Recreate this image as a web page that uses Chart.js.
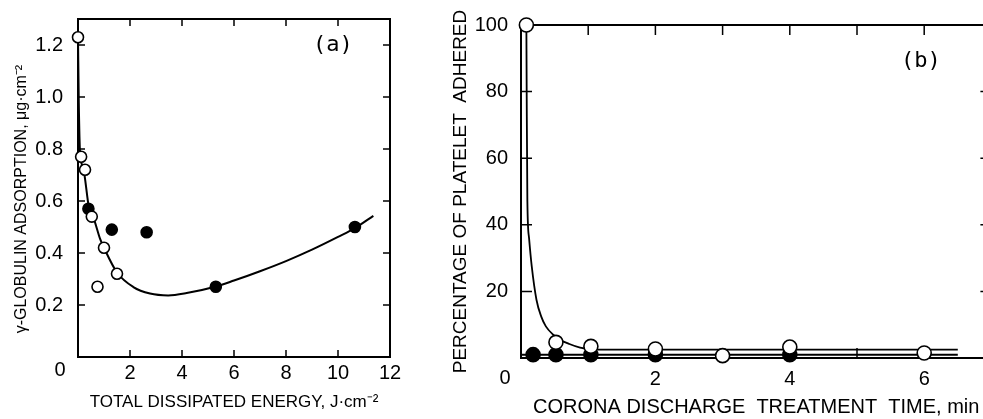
<!DOCTYPE html>
<html>
<head>
<meta charset="utf-8">
<script src="https://cdn.jsdelivr.net/npm/chart.js@4/dist/chart.umd.min.js"></script>
<style>
  html, body { margin: 0; padding: 0; background: #fff; overflow: hidden; }
  body { width: 983px; height: 419px; position: relative; }
  canvas { position: absolute; top: 0; }
  #graficoA { left: 0; }
  #graficoB { left: 440px; }
</style>
</head>
<body>
<canvas id="graficoA" width="420" height="419"></canvas>
<canvas id="graficoB" width="560" height="419"></canvas>
<script>
// Painel (a): adsorção de gama-globulina x energia dissipada
const energiaAberto = [0, 0.12, 0.27, 0.53, 0.75, 1.0, 1.5];
const adsorcaoAberto = [1.23, 0.77, 0.72, 0.54, 0.27, 0.42, 0.32];
const energiaCheio = [0.4, 1.3, 2.64, 5.3, 10.65];
const adsorcaoCheio = [0.57, 0.49, 0.48, 0.27, 0.50];
const energiaCurva = [0, 0.03, 0.08, 0.2, 0.43, 0.59, 0.85, 1.0, 1.5, 2.13, 2.77, 3.47, 4.18, 5.31, 6.0, 7.0, 8.0, 9.0, 10.0, 10.67, 11.36];
const adsorcaoCurva = [1.23, 0.98, 0.785, 0.728, 0.569, 0.537, 0.454, 0.42, 0.325, 0.269, 0.244, 0.237, 0.246, 0.271, 0.294, 0.33, 0.369, 0.413, 0.462, 0.497, 0.543];
const ticksEnergia = [0, 2, 4, 6, 8, 10, 12];
const ticksAdsorcao = [0.2, 0.4, 0.6, 0.8, 1.0, 1.2];

// Painel (b): plaquetas aderidas x tempo de tratamento
const tempoAberto = [0.08, 0.52, 1.04, 2.0, 3.0, 4.0, 6.0];
const plaquetasAberto = [100, 4.7, 3.5, 2.7, 0.7, 3.3, 1.5];
const tempoCheio = [0.18, 0.52, 1.04, 2.0, 4.0];
const plaquetasCheio = [1.0, 1.0, 1.0, 1.0, 1.0];
const tempoCurvaAberto = [0.08, 0.085, 0.095, 0.12, 0.16, 0.23, 0.3, 0.37, 0.48, 0.58, 0.72, 0.88, 1.05, 1.4, 6.5];
const plaquetasCurvaAberto = [100, 78, 47, 36, 27.5, 17.5, 12.5, 9.5, 7, 5.5, 4.2, 3.1, 2.6, 2.5, 2.5];
const tempoCurvaCheio = [0, 6.5];
const plaquetasCurvaCheio = [1.0, 1.0];
const ticksTempo = [0, 1, 2, 3, 4, 5, 6, 7];
const rotulosTempo = [2, 4, 6];
const ticksPlaquetas = [20, 40, 60, 80, 100];

const FONTE = "'Liberation Sans', Arial, sans-serif";
const pontos = (xs, ys) => xs.map((x, i) => ({ x, y: ys[i] }));

// Moldura com marcas de escala voltadas para dentro
const moldura = {
  id: 'moldura',
  beforeDatasetsDraw(chart, args, opts) {
    const { ctx, chartArea: a, scales: { x, y } } = chart;
    ctx.save();
    ctx.strokeStyle = '#000';
    ctx.lineWidth = 2;
    ctx.strokeRect(a.left, a.top, a.right - a.left, a.bottom - a.top);
    ctx.lineWidth = 1.5;
    ctx.beginPath();
    x.ticks.forEach(t => {
      if (t.value <= x.min || t.value >= x.max) return;
      const px = x.getPixelForValue(t.value);
      ctx.moveTo(px, a.bottom); ctx.lineTo(px, a.bottom - opts.tickX);
      ctx.moveTo(px, a.top); ctx.lineTo(px, a.top + opts.tickX);
    });
    y.ticks.forEach(t => {
      if (t.value <= y.min || t.value >= y.max) return;
      const py = y.getPixelForValue(t.value);
      ctx.moveTo(a.left, py); ctx.lineTo(a.left + opts.tickY, py);
      ctx.moveTo(a.right, py); ctx.lineTo(a.right - opts.tickY, py);
    });
    ctx.stroke();
    ctx.restore();
  },
  afterDraw(chart, args, opts) {
    const { ctx, chartArea: a, scales: { x, y } } = chart;
    ctx.save();
    ctx.fillStyle = '#000';
    ctx.textAlign = 'center';
    ctx.textBaseline = 'middle';
    ctx.font = opts.fonteZero;
    ctx.fillText('0', a.left + opts.zeroDx, a.bottom + opts.zeroDy);
    ctx.font = "22px 'DejaVu Sans Mono', monospace";
    ctx.fillText(opts.rotulo, x.getPixelForValue(opts.rotuloX), y.getPixelForValue(opts.rotuloY));
    ctx.restore();
  }
};

function criarGrafico(canvasId, cfg) {
  const ctx = document.getElementById(canvasId).getContext('2d');
  return new Chart(ctx, {
    type: 'scatter',
    data: {
      datasets: [
        {
          data: pontos(cfg.abertoX, cfg.abertoY),
          pointRadius: cfg.raio, pointBorderWidth: 1.6,
          pointBackgroundColor: '#fff', pointBorderColor: '#000',
          clip: false
        },
        {
          data: pontos(cfg.cheioX, cfg.cheioY),
          pointRadius: cfg.raio, pointBorderWidth: 1.6,
          pointBackgroundColor: '#000', pointBorderColor: '#000',
          clip: false
        },
        ...cfg.curvas.map(c => ({
          data: pontos(c[0], c[1]),
          showLine: true, pointRadius: 0,
          borderColor: '#000', borderWidth: c[2],
          cubicInterpolationMode: 'monotone',
          clip: false
        }))
      ]
    },
    options: {
      responsive: false,
      animation: false,
      layout: { padding: cfg.padding },
      plugins: {
        legend: { display: false },
        tooltip: { enabled: false },
        moldura: cfg.moldura
      },
      scales: {
        x: {
          type: 'linear', min: cfg.xMin, max: cfg.xMax,
          afterBuildTicks: s => { s.ticks = cfg.ticksX.map(v => ({ value: v })); },
          afterFit: s => { s.height = cfg.alturaX; },
          grid: { display: false },
          border: { display: false },
          ticks: {
            callback: cfg.rotuloX, color: '#000', maxRotation: 0, autoSkip: false,
            padding: cfg.padX, font: { family: FONTE, size: cfg.fonteTick }
          },
          title: {
            display: true, text: cfg.tituloX, color: '#000',
            font: { family: FONTE, size: cfg.fonteTituloX },
            padding: { top: 0, bottom: cfg.padTituloX }
          }
        },
        y: {
          type: 'linear', min: cfg.yMin, max: cfg.yMax,
          afterBuildTicks: s => { s.ticks = cfg.ticksY.map(v => ({ value: v })); },
          afterFit: s => { s.width = cfg.larguraY; },
          grid: { display: false },
          border: { display: false },
          ticks: {
            callback: cfg.rotuloY, color: '#000', autoSkip: false,
            padding: cfg.padY, font: { family: FONTE, size: cfg.fonteTick }
          },
          title: {
            display: true, text: cfg.tituloY, color: '#000',
            font: { family: FONTE, size: cfg.fonteTituloY },
            padding: { top: cfg.padTituloY, bottom: 0 }
          }
        }
      }
    },
    plugins: [moldura]
  });
}

criarGrafico('graficoA', {
  abertoX: energiaAberto, abertoY: adsorcaoAberto,
  cheioX: energiaCheio, cheioY: adsorcaoCheio,
  curvas: [[energiaCurva, adsorcaoCurva, 2]],
  raio: 5.5,
  xMin: 0, xMax: 12, yMin: 0, yMax: 1.3,
  ticksX: ticksEnergia, ticksY: ticksAdsorcao,
  rotuloX: v => (v === 0 ? '' : String(v)),
  rotuloY: v => v.toFixed(1),
  padding: { top: 14, right: 30, left: 0, bottom: 0 },
  alturaX: 62, larguraY: 78,
  padX: -4, padY: 7, fonteTick: 20,
  tituloX: 'TOTAL DISSIPATED ENERGY, J\u00b7cm\u207b\u00b2', fonteTituloX: 17, padTituloX: 6,
  tituloY: '\u03b3-GLOBULIN ADSORPTION, \u03bcg\u00b7cm\u207b\u00b2     ', fonteTituloY: 16, padTituloY: 12,
  moldura: { tickX: 7, tickY: 7, zeroDx: -18, zeroDy: 13, fonteZero: "20px " + FONTE,
             rotulo: '(a)', rotuloX: 9.8, rotuloY: 1.2 }
});

criarGrafico('graficoB', {
  abertoX: tempoAberto, abertoY: plaquetasAberto,
  cheioX: tempoCheio, cheioY: plaquetasCheio,
  curvas: [[tempoCurvaAberto, plaquetasCurvaAberto, 1.8], [tempoCurvaCheio, plaquetasCurvaCheio, 2]],
  raio: 7,
  xMin: 0, xMax: 7, yMin: 0, yMax: 100,
  ticksX: ticksTempo, ticksY: ticksPlaquetas,
  rotuloX: v => (rotulosTempo.includes(v) ? String(v) : ''),
  rotuloY: v => String(v),
  padding: { top: 25, right: 8, left: 0, bottom: 0 },
  alturaX: 61, larguraY: 81,
  padX: 1, padY: 5, fonteTick: 20,
  tituloX: 'CORONA DISCHARGE  TREATMENT  TIME, min', fonteTituloX: 20, padTituloX: 0,
  tituloY: 'PERCENTAGE OF PLATELET  ADHERED', fonteTituloY: 19, padTituloY: 9,
  moldura: { tickX: 10, tickY: 11, zeroDx: -16, zeroDy: 20, fonteZero: "20px " + FONTE,
             rotulo: '(b)', rotuloX: 5.95, rotuloY: 89 }
});
</script>
</body>
</html>
